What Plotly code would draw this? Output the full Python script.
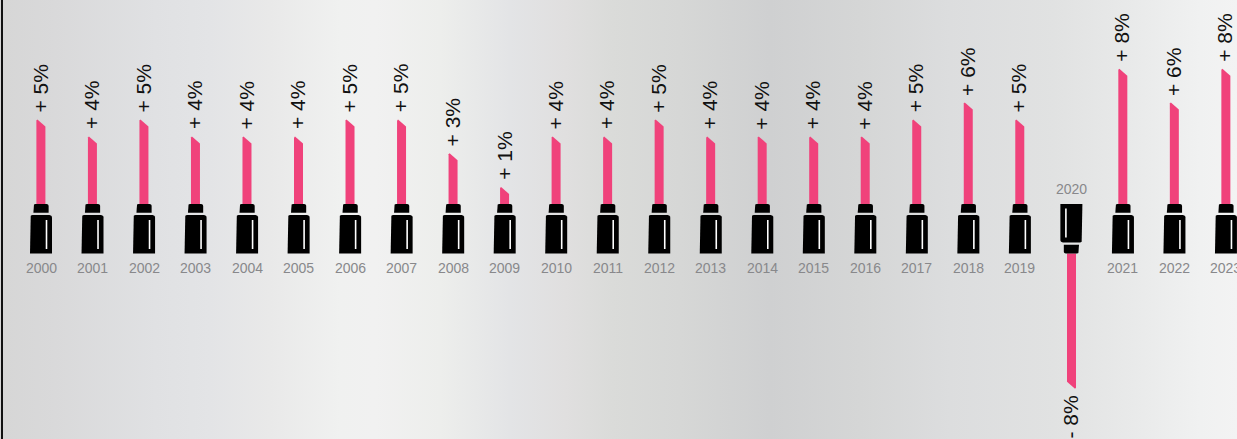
import numpy as np
import plotly.graph_objects as go

# Annual change by year
years = list(range(2000, 2024))
changes = [5, 4, 5, 4, 4, 4, 5, 5, 3, 1, 4, 4, 5, 4, 4, 4, 4, 5, 6, 5, -8, 8, 6, 8]

PINK = "#f0427b"
BLACK = "#000000"
WHITE = "#ffffff"
LABEL_GREY = "#88888b"

W, H = 1237, 439

# Panel shading, left to right (pixel position, colour)
shade_stops = [
    (0, "#d6d6d6"), (55, "#d9d9da"), (155, "#e0e1e3"), (210, "#e3e4e6"),
    (270, "#e9e9e9"), (340, "#f0f1f0"), (375, "#f1f1f1"), (440, "#edeeec"),
    (510, "#e3e4e6"), (565, "#e0dfdf"), (612, "#dadbd9"), (680, "#d6d7d6"),
    (770, "#cfd0d1"), (860, "#d5d6d6"), (950, "#dcddde"), (1055, "#e1e2e2"),
    (1134, "#e9eaea"), (1200, "#f0f1f1"), (1237, "#f3f3f3"),
]

PX_PER_YEAR = 51.52
PX_PER_POINT = 16.9
X_MIN = 2000 - 41 / PX_PER_YEAR
X_MAX = X_MIN + W / PX_PER_YEAR
Y_MAX = 204 / PX_PER_POINT
Y_MIN = Y_MAX - H / PX_PER_POINT
FLIP_OFFSET = 49.5 / PX_PER_POINT  # the negative year hangs from below its case


def sx(px):
    return np.asarray(px, dtype=float) / PX_PER_YEAR


def sy(px):
    return np.asarray(px, dtype=float) / PX_PER_POINT


def arc(cx, cy, r, start, end, n=5):
    a = np.radians(np.linspace(start, end, n))
    return list(zip(cx + r * np.cos(a), cy + r * np.sin(a)))


def rounded_top(x0, x1, y_base, height, r):
    # Outline in pixel offsets, y measured upward from the base
    pts = [(x0, y_base)]
    pts += arc(x0 + r, y_base + height - r, r, 180, 90)
    pts += arc(x1 - r, y_base + height - r, r, 90, 0)
    pts += [(x1, y_base)]
    return pts


def add_poly(fig, year, zero, pts, flip, color):
    sign = -1 if flip else 1
    xs = [float(year + sx(sign * p[0])) for p in pts]
    ys = [float(zero + sy(sign * p[1])) for p in pts]
    fig.add_trace(go.Scatter(
        x=xs + xs[:1], y=ys + ys[:1], mode="lines", fill="toself",
        fillcolor=color, line=dict(width=0), hoverinfo="skip", showlegend=False,
    ))


fig = go.Figure()

# Background panel
fig.add_trace(go.Scatter(
    x=[X_MIN, X_MAX, X_MAX, X_MIN, X_MIN],
    y=[Y_MIN, Y_MIN, Y_MAX, Y_MAX, Y_MIN],
    mode="lines", fill="toself", line=dict(width=0),
    fillgradient=dict(
        type="horizontal",
        colorscale=[[pos / W, col] for pos, col in shade_stops],
    ),
    hoverinfo="skip", showlegend=False,
))

annotations = []
for year, change in zip(years, changes):
    flip = change < 0
    zero = -FLIP_OFFSET if flip else 0.0
    size = abs(change)

    # Stick: its slanted tip is drawn down from the value
    tip = size * PX_PER_POINT
    add_poly(fig, year, zero,
             [(-4.6, 0), (-4.6, tip - 1), (-3.6, tip), (4.4, tip - 7), (4.4, 0)],
             flip, PINK)

    # Collar, case and highlight sit on the zero line
    add_poly(fig, year, zero, rounded_top(-7.6, 7.6, -8.8, 8.8, 2), flip, BLACK)
    add_poly(fig, year, zero, rounded_top(-11, 11, -49.5, 38.5, 2.5), flip, BLACK)
    add_poly(fig, year, zero,
             [(4.7, -16), (6.3, -16), (6.3, -45), (4.7, -45)], flip, WHITE)

    # Year label
    annotations.append(dict(
        x=year, y=float(sy(15.0) if flip else sy(-64.0)),
        text=str(year), showarrow=False, xanchor="center", yanchor="middle",
        font=dict(family="Liberation Sans", size=14, color=LABEL_GREY),
    ))

    # Value label, rotated, just past the tip
    sign_text = "-" if flip else "+"
    label_y = float(zero + sy(-tip - 5) if flip else sy(tip + 5))
    annotations.append(dict(
        x=year, y=label_y, text=f"{sign_text} {size}%", showarrow=False,
        textangle=-90, xanchor="center", yanchor="top" if flip else "bottom",
        xshift=-1,
        font=dict(family="Liberation Sans, Arial", size=21, color="#111111"),
    ))

fig.update_layout(
    width=W, height=H, margin=dict(l=0, r=0, t=0, b=0),
    paper_bgcolor="#e0e1e2", plot_bgcolor="rgba(0,0,0,0)",
    xaxis=dict(range=[X_MIN, X_MAX], visible=False, fixedrange=True),
    yaxis=dict(range=[Y_MIN, Y_MAX], visible=False, fixedrange=True),
    annotations=annotations,
    shapes=[dict(type="line", xref="paper", yref="paper", x0=2 / W, x1=2 / W, y0=0, y1=1,
                 line=dict(color="#111111", width=2))],
)

fig.write_html("out.html", config=dict(displayModeBar=False))
